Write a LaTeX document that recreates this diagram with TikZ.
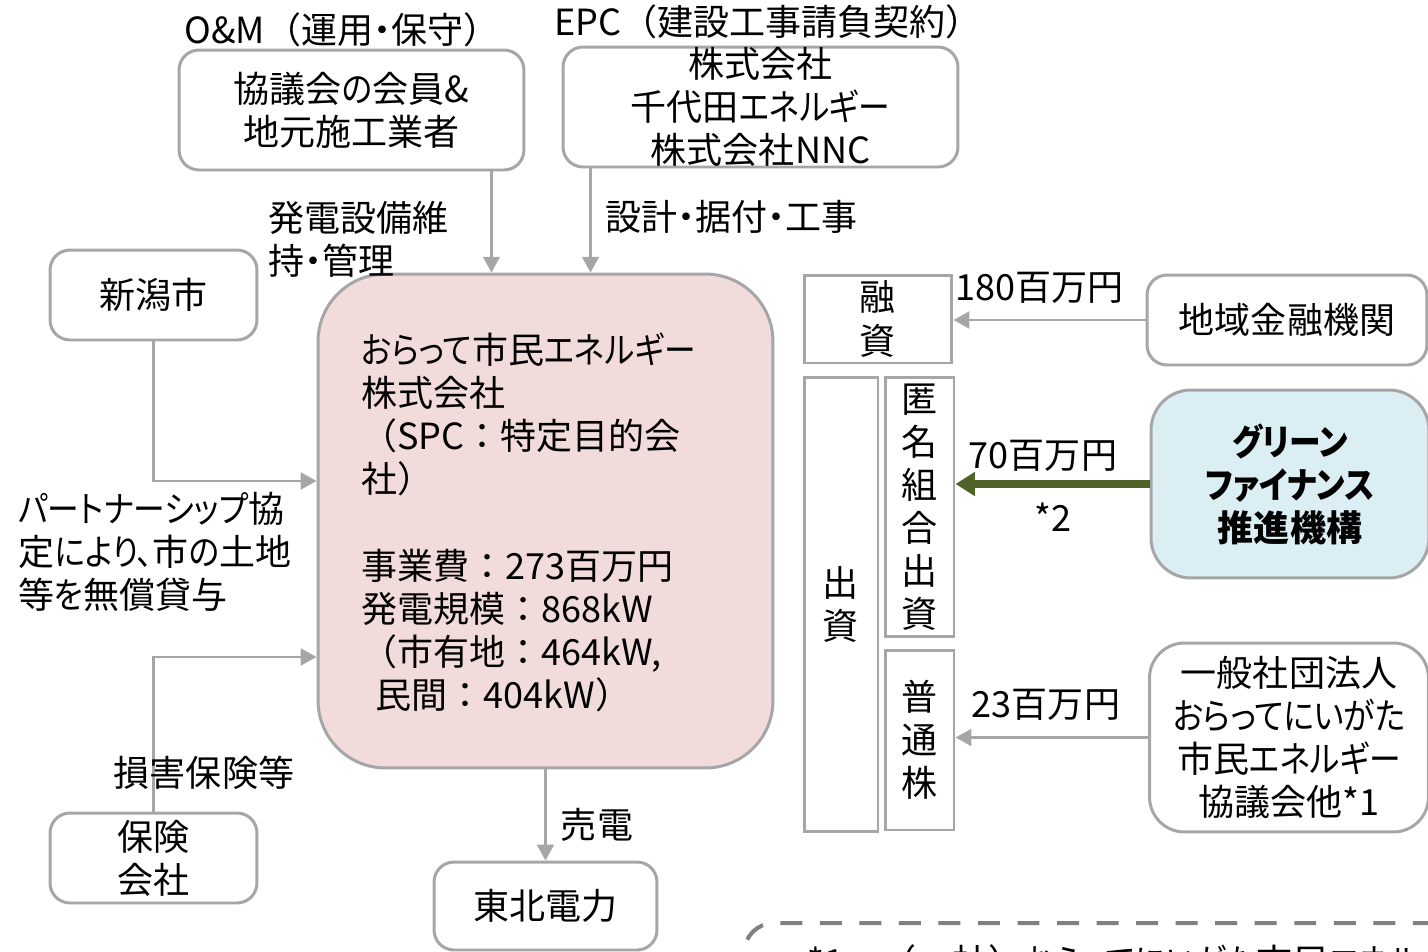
\documentclass[tikz,border=0pt]{standalone}
\usepackage{fontspec}
\setmainfont{Noto Sans CJK JP}[CharacterWidth=AlternateProportional]
\newfontfamily\fwfont{Noto Sans CJK JP}
\usepackage{graphicx}
\newcommand{\fw}[1]{{\fwfont #1}}
\newcommand{\kn}[1]{\scalebox{0.88}[1]{#1}} % narrower kana, as in the original typeface
\usepackage{xcolor}
\usepackage{tikz}
\usetikzlibrary{arrows.meta,positioning,calc}
\definecolor{linegray}{HTML}{A6A6A6}
\definecolor{spcpink}{HTML}{F2DCDB}
\definecolor{gfblue}{HTML}{DBEEF4}
\definecolor{gfolive}{HTML}{4F6228}
\definecolor{notegray}{HTML}{808080}

\begin{document}
\begin{tikzpicture}[x=0.02cm,y=-0.02cm,font=\fontsize{20.5}{24.5}\selectfont]
  % Project scheme of the SPC
  \tikzset{rbox/.style={draw=linegray,line width=1.7pt,rounded corners=0.4cm,fill=white,align=center,inner sep=0pt},
    sqbox/.style={draw=linegray,line width=1.7pt,fill=white,align=center,inner sep=0pt},
    lbl/.style={inner sep=0pt,align=left},
    flow/.style={draw=linegray,line width=1.5pt,-{Triangle[length=9pt,width=9.5pt]}},
    gflow/.style={draw=gfolive,line width=4pt,-{Triangle[length=11pt,width=13pt]}}}
  \useasboundingbox (0,0) rectangle (1428,951);
  \clip (0,0) rectangle (1428,951);

  % contractors (top)
  \node[lbl] (omtitle) at (342,30) {O\&M\fw{（}運用・保守\fw{）}};
  \node[rbox,minimum width=6.9cm,minimum height=2.4cm] (om) at (351.5,110) {協議会\kn{の}会員\&\\地元施工業者};
  \node[lbl] (epctitle) at (768,22) {EPC\fw{（}建設工事請負契約\fw{）}};
  \node[rbox,minimum width=7.9cm,minimum height=2.4cm] (epc) at (760.5,107) {株式会社\\千代田\kn{エネルギー}\\株式会社NNC};

  % SPC
  \node[rbox,rounded corners=1.35cm,fill=spcpink,minimum width=9.1cm,minimum height=9.88cm] (spc) at (545.5,521) {};
  \node[lbl,anchor=west] (spctext) at (361,522) {\kn{おらって}市民\kn{エネルギー}\\株式会社\\\fw{（}SPC\fw{：}特定目的会\\社\fw{）}\\[25pt]事業費\fw{：}273百万円\\発電規模\fw{：}868kW\\\fw{（}市有地\fw{：}464kW,\\\hspace{0.4em}民間\fw{：}404kW\fw{）}};

  % left side
  \node[rbox,minimum width=4.14cm,minimum height=1.8cm] (city) at (153.5,295) {新潟市};
  \node[rbox,minimum width=4.14cm,minimum height=1.8cm] (ins) at (153.5,858) {保険\\会社};
  \node[rbox,minimum width=4.46cm,minimum height=1.76cm] (tohoku) at (545.5,906) {東北電力};

  % financing columns
  \node[sqbox,minimum width=2.96cm,minimum height=1.76cm] (loan) at (878,319) {融\\資};
  \node[sqbox,minimum width=1.48cm,minimum height=9.1cm] (inv) at (841,604.5) {出\\資};
  \node[sqbox,minimum width=1.38cm,minimum height=5.2cm] (tk) at (919.5,507) {匿\\名\\組\\合\\出\\資};
  \node[sqbox,minimum width=1.38cm,minimum height=3.6cm] (stock) at (919.5,740) {普\\通\\株};

  % funders (right)
  \node[rbox,minimum width=5.6cm,minimum height=1.8cm] (bank) at (1287,320) {地域金融機関};
  \node[rbox,rounded corners=0.8cm,fill=gfblue,minimum width=5.56cm,minimum height=3.76cm,font=\fontsize{20.5}{24.5}\selectfont\bfseries] (gf) at (1290,484) {\kn{グリーン}\\\kn{ファイナンス}\\推進機構};
  \node[rbox,rounded corners=0.7cm,minimum width=5.58cm,minimum height=3.78cm] (assoc) at (1289,737.5) {一般社団法人\\\kn{おらってにいがた}\\市民\kn{エネルギー}\\協議会他*1};

  % connectors
  \coordinate (omdrop) at ([xshift=-0.68cm]om.south east);
  \coordinate (epcdrop) at ([xshift=0.58cm]epc.south west);
  \draw[flow] (omdrop) -- (omdrop |- spc.north);
  \draw[flow] (epcdrop) -- (epcdrop |- spc.north);
  \node[lbl,anchor=west] (omlbl) at (268,239) {発電設備維\\持・管理};
  \node[lbl,anchor=west] (epclbl) at (605,217) {設計・据付・工事};

  \coordinate (cityin) at ([yshift=0.8cm]spc.west);
  \coordinate (insin) at ([yshift=-2.72cm]spc.west);
  \draw[flow] (city.south) |- (cityin);
  \draw[flow] (ins.north) |- (insin);
  \node[lbl,anchor=west] (citylbl) at (18,552) {\kn{パートナーシップ}協\\定\kn{により、}市\kn{の}土地\\等\kn{を}無償貸与};
  \node[lbl] (inslbl) at (204,773) {損害保険等};

  \draw[flow] (spc.south) -- (tohoku.north);
  \node[lbl] (salelbl) at (597,825) {売電};

  \draw[flow] (bank.west) -- (bank.west -| loan.east);
  \node[lbl] (lbl180) at (1040,288) {180百万円};
  \draw[gflow] (gf.west) -- (gf.west -| tk.east);
  \node[lbl] (lbl70) at (1043,456) {70百万円};
  \node[lbl] (lblnote2) at (1053,517) {*2};
  \draw[flow] (assoc.west) -- (assoc.west -| stock.east);
  \node[lbl] (lbl23) at (1046,705) {23百万円};

  % footnote box (cut off)
  \node[draw=notegray,line width=2.3pt,dash pattern=on 12.5pt off 10pt,rounded corners=0.6cm,anchor=north west,
    inner xsep=0.66cm,inner ysep=0.44cm,minimum width=16cm,align=left] (note) at (742,921)
    {*1\fw{　（}一社\fw{）}\kn{おらってにいがた}市民\kn{エネルギー}\\};
\end{tikzpicture}
\end{document}
